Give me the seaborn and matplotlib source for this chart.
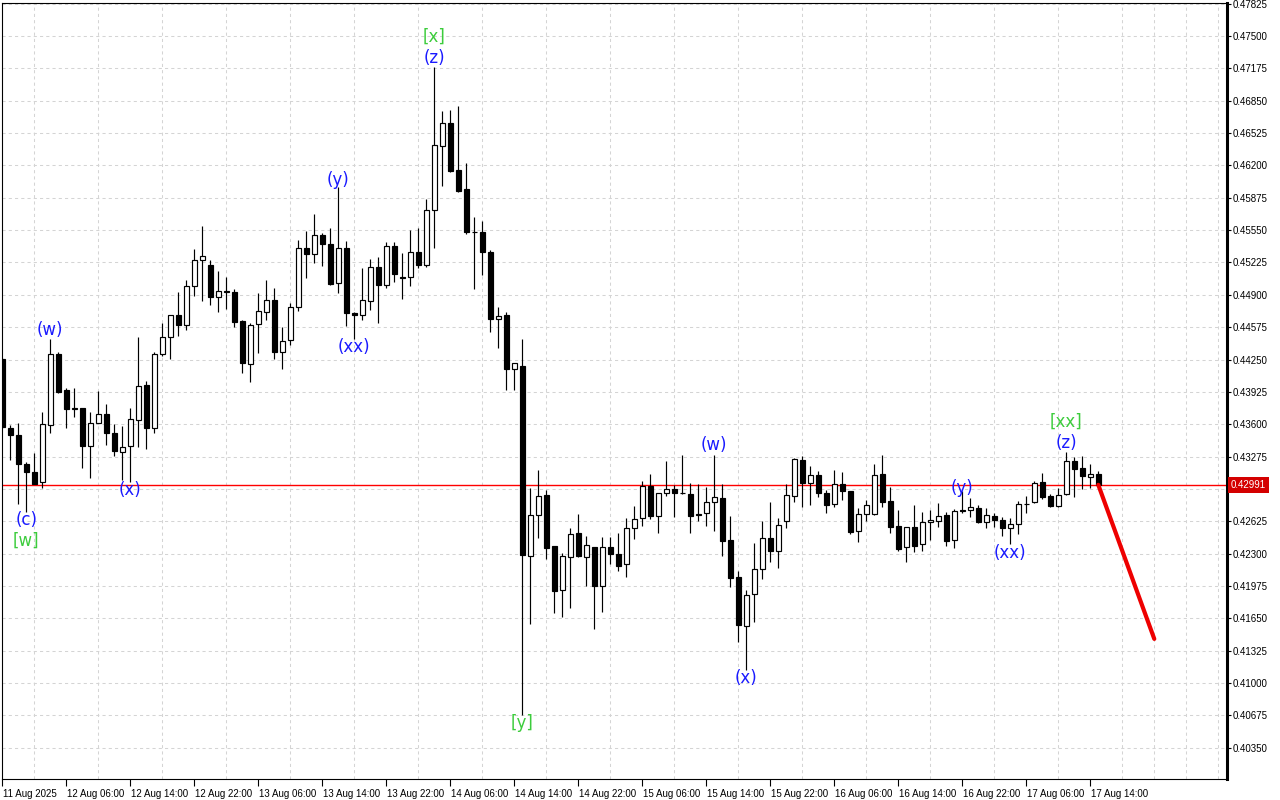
import matplotlib
matplotlib.use('Agg')
import matplotlib.pyplot as plt
import matplotlib.transforms as mtransforms
import seaborn as sns
import numpy as np

# ---------------- data (hourly candles) ----------------
opens = [0.44257, 0.43562, 0.43493, 0.43198, 0.43118, 0.43017, 0.43590, 0.44307, 0.43945, 0.43755,
         0.43761, 0.43385, 0.43610, 0.43701, 0.43509, 0.43319, 0.43385, 0.43643, 0.43995, 0.43566,
         0.44303, 0.44478, 0.44696, 0.44595, 0.44987, 0.45248, 0.45198, 0.44877, 0.44940, 0.44930,
         0.44638, 0.44206, 0.44605, 0.44726, 0.44849, 0.44330, 0.44441, 0.44773, 0.45372, 0.45309,
         0.45499, 0.45409, 0.45017, 0.45369, 0.44718, 0.44695, 0.44836, 0.45181, 0.44997, 0.45389,
         0.45078, 0.45074, 0.45329, 0.45201, 0.45751, 0.46395, 0.46630, 0.46154, 0.45960, 0.45530,
         0.45528, 0.45335, 0.44657, 0.44702, 0.44153, 0.44188, 0.42278, 0.42689, 0.42886, 0.42372,
         0.41932, 0.42270, 0.42505, 0.42270, 0.42364, 0.41971, 0.42364, 0.42294, 0.42193, 0.42561,
         0.42655, 0.42977, 0.42675, 0.42907, 0.42947, 0.42910, 0.42900, 0.42695, 0.42706, 0.42816,
         0.42857, 0.42437, 0.42066, 0.41576, 0.41892, 0.42143, 0.42460, 0.42330, 0.42631, 0.42883,
         0.43241, 0.43007, 0.43091, 0.42913, 0.42796, 0.42997, 0.42930, 0.42528, 0.42696, 0.42696,
         0.43101, 0.42829, 0.42578, 0.42364, 0.42565, 0.42394, 0.42615, 0.42632, 0.42689, 0.42437,
         0.42735, 0.42739, 0.42756, 0.42621, 0.42679, 0.42639, 0.42555, 0.42595, 0.42796, 0.42816,
         0.43017, 0.42883, 0.42782, 0.42897, 0.43234, 0.43158, 0.43067, 0.43097]
highs = [0.44267, 0.43593, 0.43610, 0.43224, 0.43315, 0.43721, 0.44457, 0.44324, 0.43962, 0.43962,
         0.43765, 0.43721, 0.43935, 0.43801, 0.43600, 0.43583, 0.43761, 0.44481, 0.44038, 0.44324,
         0.44621, 0.44696, 0.44930, 0.45050, 0.45362, 0.45596, 0.45248, 0.45141, 0.45081, 0.44957,
         0.44648, 0.44621, 0.44920, 0.45044, 0.44970, 0.44581, 0.44822, 0.45453, 0.45543, 0.45714,
         0.45519, 0.45569, 0.45988, 0.45443, 0.44730, 0.45168, 0.45262, 0.45275, 0.45428, 0.45428,
         0.45322, 0.45550, 0.45569, 0.45862, 0.47191, 0.46747, 0.46760, 0.46792, 0.46226, 0.45683,
         0.45639, 0.45351, 0.44780, 0.44731, 0.44210, 0.44455, 0.42964, 0.43141, 0.42935, 0.42372,
         0.42304, 0.42561, 0.42699, 0.42478, 0.42364, 0.42471, 0.42471, 0.42505, 0.42656, 0.42779,
         0.43030, 0.43101, 0.42907, 0.43231, 0.42990, 0.43292, 0.43007, 0.43000, 0.42967, 0.43292,
         0.43000, 0.42679, 0.42126, 0.41935, 0.42404, 0.42628, 0.42822, 0.42662, 0.42997, 0.43265,
         0.43285, 0.43181, 0.43131, 0.42940, 0.43141, 0.43118, 0.42930, 0.42756, 0.42839, 0.43198,
         0.43292, 0.42973, 0.42739, 0.42571, 0.42789, 0.42722, 0.42739, 0.42812, 0.42716, 0.42746,
         0.42933, 0.42863, 0.42789, 0.42756, 0.42712, 0.42672, 0.42655, 0.42829, 0.42883, 0.43030,
         0.43114, 0.42900, 0.42960, 0.43325, 0.43268, 0.43282, 0.43198, 0.43131]
lows = [0.43563, 0.43241, 0.42796, 0.42722, 0.43003, 0.42957, 0.43516, 0.43918, 0.43560, 0.43677,
        0.43158, 0.43058, 0.43610, 0.43392, 0.43285, 0.43040, 0.43017, 0.43375, 0.43349, 0.43509,
        0.44290, 0.44253, 0.44491, 0.44545, 0.44883, 0.44834, 0.44799, 0.44732, 0.44759, 0.44581,
        0.44112, 0.44028, 0.44320, 0.44648, 0.44253, 0.44153, 0.44394, 0.44742, 0.45064, 0.45218,
        0.45191, 0.44994, 0.44923, 0.44585, 0.44454, 0.44648, 0.44745, 0.44621, 0.44970, 0.45030,
        0.44856, 0.44984, 0.45168, 0.45184, 0.45372, 0.45993, 0.46133, 0.45931, 0.45508, 0.44960,
        0.45101, 0.44527, 0.44364, 0.43941, 0.43941, 0.40677, 0.41592, 0.42455, 0.42245, 0.41703,
        0.41666, 0.41757, 0.42264, 0.41978, 0.41540, 0.41717, 0.42196, 0.42126, 0.42069, 0.42444,
        0.42581, 0.42649, 0.42511, 0.42883, 0.42672, 0.42897, 0.42511, 0.42628, 0.42578, 0.42531,
        0.42277, 0.41968, 0.41415, 0.41131, 0.41616, 0.42045, 0.42219, 0.42159, 0.42561, 0.42816,
        0.42772, 0.42789, 0.42873, 0.42712, 0.42772, 0.42839, 0.42498, 0.42420, 0.42631, 0.42689,
        0.42772, 0.42511, 0.42330, 0.42219, 0.42320, 0.42330, 0.42437, 0.42565, 0.42377, 0.42360,
        0.42705, 0.42666, 0.42605, 0.42555, 0.42571, 0.42481, 0.42394, 0.42495, 0.42705, 0.42806,
        0.42850, 0.42772, 0.42772, 0.42890, 0.42873, 0.42947, 0.42957, 0.42990]
closes = [0.43573, 0.43493, 0.43198, 0.43118, 0.43003, 0.43600, 0.44307, 0.43928, 0.43751, 0.43765,
          0.43385, 0.43610, 0.43701, 0.43509, 0.43332, 0.43375, 0.43650, 0.43988, 0.43566, 0.44307,
          0.44478, 0.44696, 0.44595, 0.44987, 0.45248, 0.45288, 0.44877, 0.44937, 0.44930, 0.44631,
          0.44213, 0.44595, 0.44736, 0.44846, 0.44330, 0.44434, 0.44780, 0.45369, 0.45309, 0.45499,
          0.45409, 0.45007, 0.45369, 0.44715, 0.44695, 0.44846, 0.45181, 0.45003, 0.45389, 0.45110,
          0.45072, 0.45329, 0.45195, 0.45751, 0.46405, 0.46630, 0.46146, 0.45940, 0.45528, 0.45526,
          0.45331, 0.44657, 0.44690, 0.44153, 0.44210, 0.42286, 0.42689, 0.42882, 0.42352, 0.41929,
          0.42277, 0.42495, 0.42277, 0.42384, 0.41978, 0.42364, 0.42294, 0.42179, 0.42561, 0.42645,
          0.42977, 0.42675, 0.42907, 0.42947, 0.42907, 0.42905, 0.42682, 0.42688, 0.42816, 0.42867,
          0.42430, 0.42059, 0.41586, 0.41885, 0.42146, 0.42460, 0.42330, 0.42588, 0.42890, 0.43252,
          0.43013, 0.43091, 0.42907, 0.42790, 0.42997, 0.42933, 0.42521, 0.42696, 0.42789, 0.43091,
          0.42816, 0.42571, 0.42347, 0.42565, 0.42380, 0.42615, 0.42638, 0.42679, 0.42430, 0.42732,
          0.42729, 0.42772, 0.42621, 0.42686, 0.42639, 0.42555, 0.42595, 0.42796, 0.42800, 0.43007,
          0.42873, 0.42782, 0.42893, 0.43234, 0.43148, 0.43081, 0.43097, 0.42991]

time_labels = ["11 Aug 2025", "12 Aug 06:00", "12 Aug 14:00", "12 Aug 22:00", "13 Aug 06:00",
               "13 Aug 14:00", "13 Aug 22:00", "14 Aug 06:00", "14 Aug 14:00", "14 Aug 22:00",
               "15 Aug 06:00", "15 Aug 14:00", "15 Aug 22:00", "16 Aug 06:00", "16 Aug 14:00",
               "16 Aug 22:00", "17 Aug 06:00", "17 Aug 14:00"]
time_label_bars = [0, 8, 16, 24, 32, 40, 48, 56, 64, 72, 80, 88, 96, 104, 112, 120, 128, 136]

price_ticks = [0.40350, 0.40675, 0.41000, 0.41325, 0.41650, 0.41975, 0.42300, 0.42625,
               0.42950, 0.43275, 0.43600, 0.43925, 0.44250, 0.44575, 0.44900, 0.45225,
               0.45550, 0.45875, 0.46200, 0.46525, 0.46850, 0.47175, 0.47500, 0.47825]
price_tick_labels = ["0.40350", "0.40675", "0.41000", "0.41325", "0.41650", "0.41975", "0.42300",
                     "0.42625", "0.42950", "0.43275", "0.43600", "0.43925", "0.44250", "0.44575",
                     "0.44900", "0.45225", "0.45550", "0.45875", "0.46200", "0.46525", "0.46850",
                     "0.47175", "0.47500", "0.47825"]

current_price = 0.42991
forecast_bars = [137, 144]
forecast_prices = [0.42991, 0.41443]

wave_text = ["(c)", "[w]", "(w)", "(x)", "(y)", "(xx)", "[x]", "(z)", "[y]",
             "(w)", "(x)", "(y)", "(xx)", "[xx]", "(z)"]
wave_bar = [3, 3, 6, 16, 42, 44, 54, 54, 65, 89, 93, 120, 126, 133, 133]
wave_price = [0.42638, 0.42427, 0.44548, 0.42940, 0.46053, 0.44377, 0.47493, 0.47282,
              0.40594, 0.43392, 0.41050, 0.42960, 0.42307, 0.43623, 0.43412]
wave_degree = ["minor", "major", "minor", "minor", "minor", "minor", "major", "minor", "major",
               "minor", "minor", "minor", "minor", "major", "minor"]

# ---------------- style ----------------
sns.set_theme(style="white")
plt.rcParams['font.family'] = ['Liberation Sans', 'DejaVu Sans']

W, H = 1280, 800
fig = plt.figure(figsize=(W / 100, H / 100), dpi=100)
left_px, right_px, top_px, bottom_px = 2, 1227, 3, 779
ax = fig.add_axes([left_px / W, 1 - bottom_px / H, (right_px - left_px) / W, (bottom_px - top_px) / H])
ax.set_facecolor('white')

o = np.array(opens); h = np.array(highs); l = np.array(lows); c = np.array(closes)
idx = np.arange(len(o))
up = c >= o

ax.vlines(idx, l, h, color='black', linewidth=0.85, zorder=2)
bottoms = np.minimum(o, c)
heights = np.maximum(np.abs(c - o), 0.00001)
ax.bar(idx[up], heights[up], bottom=bottoms[up], width=0.6, facecolor='white',
       edgecolor='black', linewidth=0.85, zorder=3)
ax.bar(idx[~up], heights[~up], bottom=bottoms[~up], width=0.6, facecolor='black',
       edgecolor='black', linewidth=0.85, zorder=3)

# current price line
ax.axhline(current_price, color='#ff0000', linewidth=1.0, zorder=1.5, snap=True)

# forecast line
sns.lineplot(x=forecast_bars, y=forecast_prices, ax=ax, color='#ee0000', linewidth=3.0,
             zorder=4, legend=False)

# wave labels
colors = {"minor": "#1a1aff", "major": "#3ccc3c"}
for t, b, p, d in zip(wave_text, wave_bar, wave_price, wave_degree):
    ax.text(b, p, t, ha='center', va='center', color=colors[d], fontsize=12,
            family=['DejaVu Sans'], zorder=5)

# axes limits
ax.set_xlim(-0.04, 153.09)
ax.set_ylim(0.400356, 0.478315)

# ticks
ax.yaxis.tick_right()
ax.set_yticks(price_ticks)
ax.set_yticklabels(price_tick_labels)
ax.tick_params(axis='y', which='major', direction='out', length=3, width=0.8, color='black',
               labelsize=7, pad=1, labelcolor='black', right=True, left=False)
ax.set_xticks(time_label_bars)
ax.set_xticklabels(time_labels, ha='left')
ax.tick_params(axis='x', which='major', direction='out', length=5, width=0.8, color='black',
               labelsize=7, pad=2, labelcolor='black', bottom=True)
offset = mtransforms.ScaledTranslation(1 / 100, 0, fig.dpi_scale_trans)
for lab in ax.get_xticklabels():
    lab.set_horizontalalignment('left')
    lab.set_transform(lab.get_transform() + offset)

ax.set_xticks(np.arange(0, 154, 4), minor=True)
ax.tick_params(axis='x', which='minor', length=0)

ax.grid(False)
ax.grid(which='minor', axis='x', color='#d4d4d4', linestyle=(0, (3, 3)), linewidth=0.75, zorder=0)
ax.grid(which='major', axis='y', color='#d4d4d4', linestyle=(0, (3, 3)), linewidth=0.75, zorder=0)
ax.set_axisbelow(True)

for side in ['left', 'top', 'bottom']:
    ax.spines[side].set_color('black')
    ax.spines[side].set_linewidth(0.8)
ax.spines['right'].set_color('black')
ax.spines['right'].set_linewidth(2.2)

ax.set_xlabel('')
ax.set_ylabel('')

# current price tag
trans = mtransforms.blended_transform_factory(ax.transAxes, ax.transData)
ax.text(1.0 + 4 / 1225, current_price, f"{current_price:.5f}", transform=trans, ha='left',
        va='center', color='white', fontsize=7, zorder=10, clip_on=False,
        bbox=dict(boxstyle='square,pad=0.3', facecolor='#d40000', edgecolor='none'))

fig.savefig('out.png', dpi=100, facecolor='white')
